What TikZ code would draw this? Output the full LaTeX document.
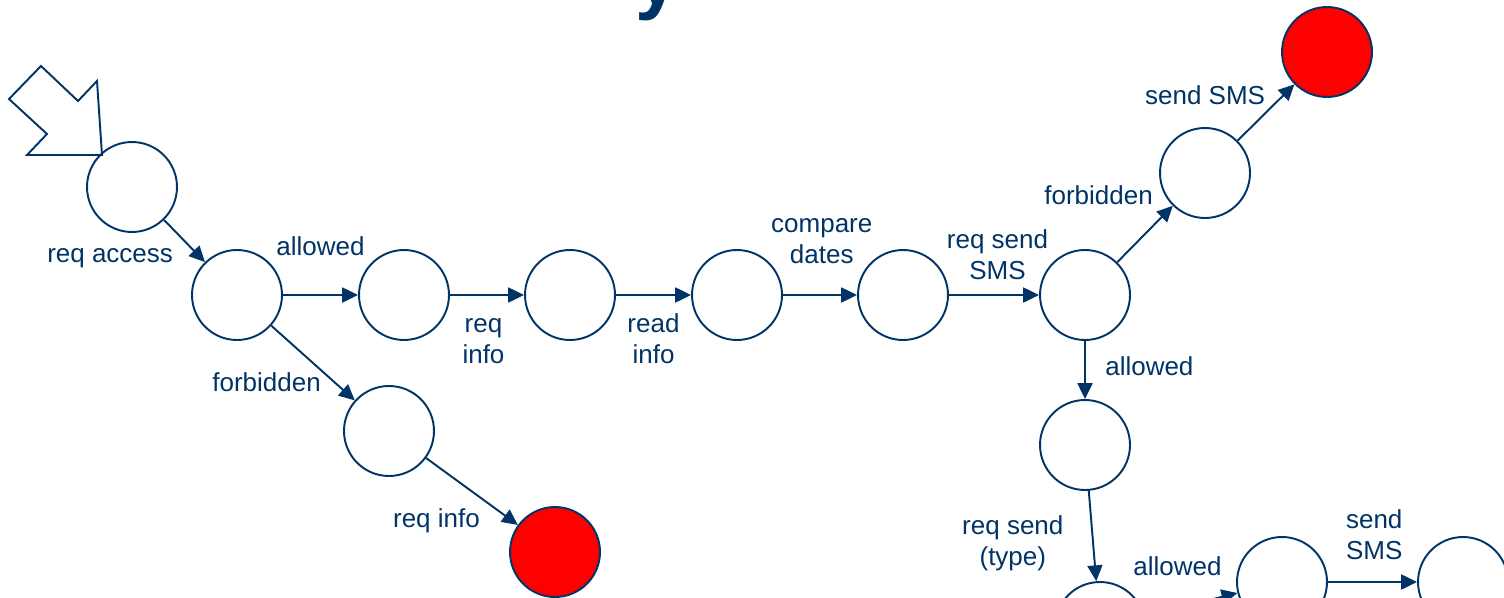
\documentclass[tikz,border=0pt]{standalone}
\usepackage{fontspec}
\setmainfont{Liberation Sans}
\usetikzlibrary{arrows.meta}
\usetikzlibrary{quotes}
\definecolor{navy}{RGB}{0,51,102}

\begin{document}
\begin{tikzpicture}[x=0.02cm,y=-0.02cm,line width=1.1pt,navy,>={Triangle[length=9pt,width=8.5pt]},
    every edge quotes/.style={font=\fontsize{14.8}{17.6}\selectfont,text=navy,align=center,inner sep=2pt},
    every circle node/.style={draw,minimum size=1.8cm,inner sep=0pt},
    final/.style={fill=red}]
    \useasboundingbox (0,0) rectangle (1504,598);
    % title, cut by the page
    \node[anchor=base west,inner sep=0pt,font=\fontsize{45}{45}\selectfont\bfseries] (title) at (635,5) {y};
    % start
    \draw (41,66) -- (78,101) -- (97,81) -- (102,155) -- (27,155) -- (47,134) -- (9,99) -- cycle;
    \node[circle] (q0) at (132,187) {};
    \node[circle] (q1) at (237,295) {};
    \node[circle] (q2) at (404,295) {};
    \node[circle] (q3) at (570,295) {};
    \node[circle] (q4) at (737,295) {};
    \node[circle] (q5) at (903,295) {};
    \node[circle] (q6) at (1085,295) {};
    \node[circle] (q7) at (1205,173) {};
    \node[circle,final] (q8) at (1327,52) {};
    \node[circle] (q9) at (1085,445) {};
    \node[circle] (q10) at (1100,627) {};
    \node[circle] (q11) at (1282,582) {};
    \node[circle] (q12) at (1463,582) {};
    \node[circle] (q13) at (389,431) {};
    \node[circle,final] (q14) at (555,552) {};
    \draw (q0) edge["req access" {below left,xshift=-4pt,yshift=-2pt},->] (q1);
    \draw (q1) edge["allowed" above=20pt,->] (q2);
    \draw (q1) edge["forbidden" {below left,xshift=7pt,yshift=-3pt},->] (q13);
    \draw (q13) edge["req info" {below left,xshift=7pt,yshift=-7pt},->] (q14);
    \draw (q2) edge["req\\info" {below,xshift=-2pt,yshift=-11pt},->] (q3);
    \draw (q3) edge["read\\info" {below,yshift=-8pt},->] (q4);
    \draw (q4) edge["compare\\dates" {above,xshift=1pt,yshift=15pt},->] (q5);
    \draw (q5) edge["req send\\SMS" {above,xshift=2pt,yshift=6pt},->] (q6);
    \draw (q6) edge["forbidden" {above left,xshift=7pt,yshift=14pt},->] (q7);
    \draw (q7) edge["send SMS" {above left,xshift=2pt,yshift=2pt},->] (q8);
    \draw (q6) edge["allowed" {right,xshift=9pt,yshift=2pt},->] (q9);
    \draw (q9) edge["req send\\(type)" {left,xshift=-14pt,yshift=-4pt},->] (q10);
    \draw (q10) edge["allowed" {above left,xshift=20pt,yshift=14pt},->] (q11);
    \draw (q11) edge["send\\SMS" {above,xshift=1pt,yshift=10pt},->] (q12);
\end{tikzpicture}
\end{document}
